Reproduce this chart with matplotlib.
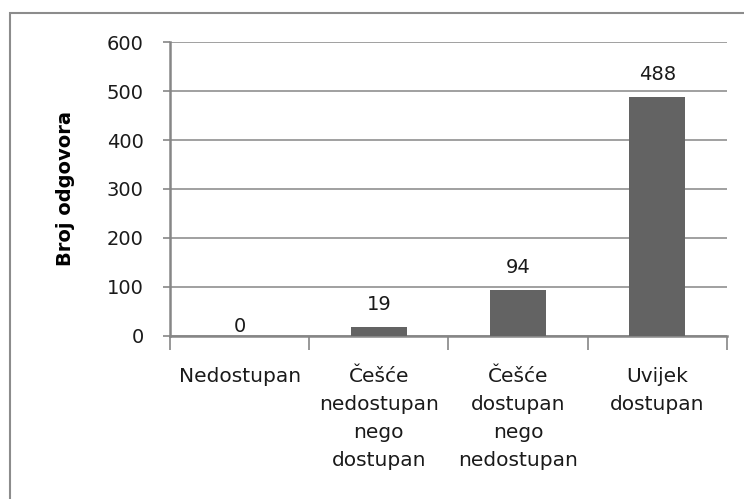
import numpy as np
import matplotlib
matplotlib.use('Agg')
import matplotlib.pyplot as plt
from matplotlib.patches import Rectangle

# data
categories = ['Nedostupan',
              'Češće\nnedostupan\nnego\ndostupan',
              'Češće\ndostupan\nnego\nnedostupan',
              'Uvijek\ndostupan']
values = [0, 19, 94, 488]
y_ticks = [0, 100, 200, 300, 400, 500, 600]

plt.rcParams['font.family'] = ['DejaVu Sans']

fig = plt.figure(figsize=(7.44, 4.99), dpi=100)
ax = fig.add_axes([0.2285, 0.3267, 0.977 - 0.2285, 0.9158 - 0.3267])

# chart frame around the whole figure (runs off right/bottom edge)
fig.patches.append(Rectangle((10 / 744, -0.05), 1.0, 1 - 13 / 499 + 0.05,
                             transform=fig.transFigure, fill=False,
                             edgecolor='#8c8c8c', linewidth=1.5))

x = np.arange(len(categories))
bars = ax.bar(x, values, width=0.4, color='#636363', zorder=3)

for xi, v in zip(x, values):
    off = 9 if v > 0 else 0
    ax.annotate(str(v), (xi, v), xytext=(0, off), textcoords='offset points',
                ha='center', va='bottom', fontsize=14, color='#1a1a1a')

ax.set_xlim(-0.5, 3.5)
ax.set_ylim(0, 600)
ax.set_yticks(y_ticks)
ax.tick_params(axis='y', length=5, width=1.2, color='#868686', labelsize=14,
               pad=14, labelcolor='#1a1a1a')
ax.yaxis.grid(True, color='#868686', linewidth=1.1, zorder=0)

ax.set_xticks(x)
ax.set_xticklabels(categories, fontsize=14.5, color='#1a1a1a', linespacing=1.6,
                   va='top')
ax.tick_params(axis='x', which='major', length=0, pad=22)
ax.set_xticks(np.arange(-0.5, 4.0, 1.0), minor=True)
ax.tick_params(axis='x', which='minor', length=10, width=1.2, color='#868686')

for side in ['top', 'right']:
    ax.spines[side].set_visible(False)
for side in ['left', 'bottom']:
    ax.spines[side].set_color('#868686')
    ax.spines[side].set_linewidth(1.8)

ax.set_ylabel('Broj odgovora', fontsize=14, fontweight='bold')
ax.yaxis.set_label_coords(-0.17, 0.5)

fig.savefig('out.png', dpi=100)
